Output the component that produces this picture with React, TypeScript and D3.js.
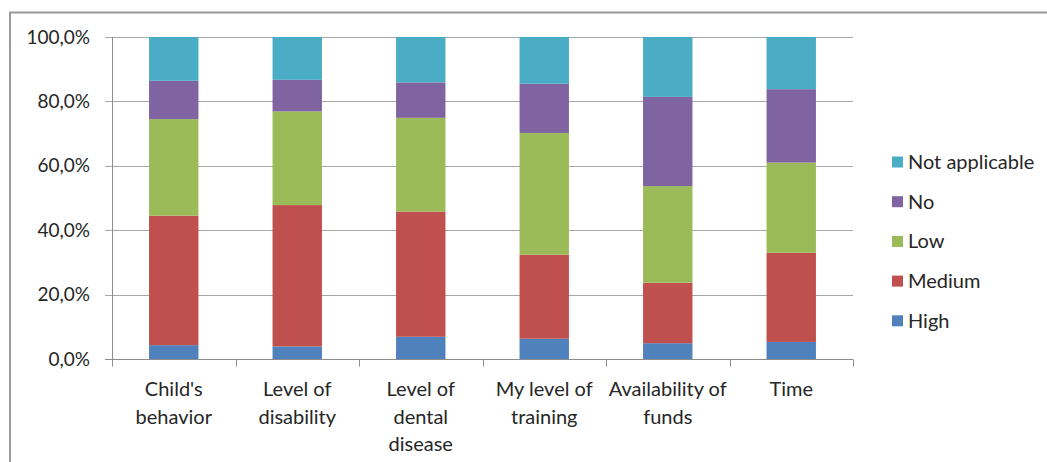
import { useEffect, useRef } from 'react';
import * as d3 from 'd3';

const categories = [
  "Child's\nbehavior",
  'Level of\ndisability',
  'Level of\ndental\ndisease',
  'My level of\ntraining',
  'Availability of\nfunds',
  'Time',
];
const seriesNames = ['High', 'Medium', 'Low', 'No', 'Not applicable'];
const high = [4.3, 3.9, 6.9, 6.3, 4.9, 5.3];
const medium = [40.2, 43.9, 38.9, 26.1, 18.8, 27.7];
const low = [30.0, 29.1, 29.1, 37.8, 30.0, 28.0];
const no = [11.9, 9.8, 11.0, 15.3, 27.7, 22.8];
const notApplicable = [13.6, 13.3, 14.1, 14.5, 18.6, 16.2];
const yTicks = [0, 20, 40, 60, 80, 100];
const colors = ['#4F81BD', '#C0504D', '#9BBB59', '#8064A2', '#4BACC6'];

export default function App() {
  const svgRef = useRef<SVGSVGElement>(null);

  useEffect(() => {
    document.body.style.margin = '0';
    if (!svgRef.current) return;
    const svg = d3.select(svgRef.current);
    svg.selectAll('*').remove();

    const width = 1047;
    const height = 462;
    const margin = { top: 37, right: 194, bottom: 102, left: 112 };
    const font = 'Lato, "Open Sans", sans-serif';

    // frame of the original figure (only top and left edges show)
    svg.append('rect')
      .attr('x', 10).attr('y', 12.5)
      .attr('width', width).attr('height', height)
      .attr('fill', 'none').attr('stroke', '#9a9a9a').attr('stroke-width', 2);

    const rows = categories.map((c, i) => ({
      cat: c,
      High: high[i],
      Medium: medium[i],
      Low: low[i],
      No: no[i],
      'Not applicable': notApplicable[i],
    }));
    const stacked = d3.stack<any>().keys(seriesNames)(rows);

    const x = d3.scaleBand()
      .domain(categories)
      .range([margin.left, width - margin.right])
      .paddingInner(0.6)
      .paddingOuter(0.3);
    const y = d3.scaleLinear().domain([0, 100]).range([height - margin.bottom - 1, margin.top]);

    const g = svg.append('g');

    // gridlines
    g.selectAll('.grid')
      .data(yTicks)
      .enter()
      .append('line')
      .attr('x1', margin.left - 7)
      .attr('x2', width - margin.right)
      .attr('y1', d => Math.round(y(d)) + 0.5)
      .attr('y2', d => Math.round(y(d)) + 0.5)
      .attr('stroke', '#a6a6a6')
      .attr('stroke-width', 1);

    // y labels
    g.selectAll('.ylab')
      .data(yTicks)
      .enter()
      .append('text')
      .attr('x', margin.left - 22)
      .attr('y', d => y(d))
      .attr('dy', '0.35em')
      .attr('text-anchor', 'end')
      .attr('font-family', font)
      .attr('font-size', 19)
      .attr('fill', '#262626')
      .text(d => d3.format('.1f')(d).replace('.', ',') + '%');

    // bars
    stacked.forEach((layer, si) => {
      g.selectAll('.bar' + si)
        .data(layer)
        .enter()
        .append('rect')
        .attr('x', (d: any) => x(d.data.cat)!)
        .attr('width', x.bandwidth())
        .attr('y', d => y(d[1]))
        .attr('height', d => y(d[0]) - y(d[1]))
        .attr('fill', colors[si]);
    });

    // axes
    const y0 = Math.round(y(0)) + 0.5;
    g.append('line')
      .attr('x1', margin.left + 0.5).attr('x2', margin.left + 0.5)
      .attr('y1', margin.top).attr('y2', y0 + 6)
      .attr('stroke', '#8c8c8c');
    g.append('line')
      .attr('x1', margin.left - 7).attr('x2', width - margin.right)
      .attr('y1', y0).attr('y2', y0)
      .attr('stroke', '#8c8c8c');
    const catStep = (width - margin.right - margin.left) / categories.length;
    d3.range(categories.length + 1).forEach(i => {
      const tx = Math.round(margin.left + i * catStep) + 0.5;
      g.append('line')
        .attr('x1', tx).attr('x2', tx)
        .attr('y1', y0).attr('y2', y0 + 7)
        .attr('stroke', '#8c8c8c');
    });

    // x labels
    categories.forEach(c => {
      const cx = x(c)! + x.bandwidth() / 2;
      const t = g.append('text')
        .attr('text-anchor', 'middle')
        .attr('font-family', font)
        .attr('font-size', 20)
        .attr('fill', '#262626');
      c.split('\n').forEach((line, li) => {
        t.append('tspan')
          .attr('x', cx)
          .attr('y', 389 + li * 27.5)
          .attr('dy', '0.35em')
          .text(line);
      });
    });

    // legend
    const legendItems = [...seriesNames].reverse();
    const legend = g.append('g').attr('transform', 'translate(892, 162)');
    legendItems.forEach((name, i) => {
      const idx = seriesNames.indexOf(name);
      legend.append('rect')
        .attr('x', 0).attr('y', i * 39.7 - 5.5)
        .attr('width', 11).attr('height', 11)
        .attr('fill', colors[idx]);
      legend.append('text')
        .attr('x', 16).attr('y', i * 39.7)
        .attr('dy', '0.35em')
        .attr('font-family', font)
        .attr('font-size', 20)
        .attr('fill', '#262626')
        .text(name);
    });
  }, []);

  return <svg ref={svgRef} width={1047} height={462} style={{ display: 'block' }} />;
}
